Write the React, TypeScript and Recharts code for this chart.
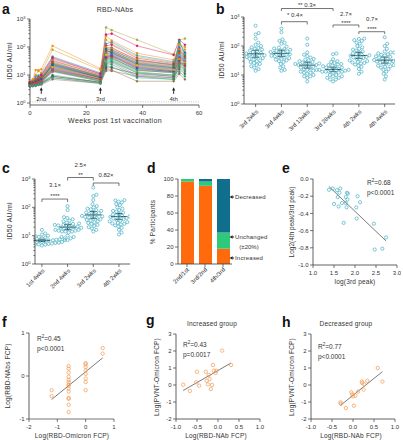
import React from 'react';
import {
  LineChart, Line, XAxis, YAxis, ScatterChart, Scatter, BarChart, Bar, ReferenceLine, ReferenceDot,
} from 'recharts';

const FONT = '"Liberation Sans", Arial, Helvetica, sans-serif';
const INK = '#3a3a3a';
const TXT = '#333';
const TEAL = '#45afc4';
const PEACH = '#f29a52';
const ORANGE = '#ff6a0d';
const GREEN = '#2fc97c';
const PETROL = '#0f6f8c';

// ---------- Panel a: RBD-NAbs ID50 (AU/ml) per participant over time ----------
const weeks = [0, 1, 2, 3, 4, 8, 25, 27, 29, 38, 51, 53, 55];
const wk0 = [5.0, 4.6, 5.5, 4.2, 6.0, 4.8, 5.2, 4.4, 5.8, 4.5, 5.1, 4.0, 4.9, 5.3, 4.3, 4.7, 6.0, 4.1, 5.0, 4.5, 5.4, 3.9, 4.8, 5.2, 4.4, 4.6, 5.5, 4.2, 5.0, 4.7, 4.1, 4.9, 4.3, 4.5, 3.8, 4.0];
const wk1 = [5.5, 5.0, 6.5, 4.5, 7.0, 5.2, 5.8, 4.6, 6.5, 4.8, 5.5, 4.2, 5.3, 6.0, 4.4, 5.0, 6.0, 4.3, 5.4, 4.7, 5.6, 4.1, 5.1, 5.5, 4.6, 4.9, 5.2, 4.4, 5.3, 5.0, 4.2, 5.1, 4.5, 4.7, 4.0, 4.1];
const wk2 = [6.2, 5.4, 9.0, 4.8, 15, 5.8, 7.0, 4.9, 10, 5.2, 6.3, 4.4, 6.0, 7.5, 4.6, 5.5, 6.8, 4.5, 6.0, 5.0, 6.5, 4.2, 5.6, 6.2, 4.8, 5.3, 5.7, 4.6, 5.8, 5.4, 4.4, 5.6, 4.7, 5.0, 4.1, 4.3];
const wk3 = [7.0, 6.0, 9.5, 5.2, 15, 6.5, 8.0, 5.3, 14, 5.6, 7.0, 4.7, 6.8, 8.5, 5.0, 6.0, 7.5, 4.9, 6.6, 5.5, 7.2, 4.5, 6.2, 6.8, 5.2, 5.8, 6.4, 5.0, 6.4, 6.0, 4.8, 6.2, 5.1, 5.5, 4.4, 4.6];
const wk4 = [7.5, 6.5, 11, 5.6, 16, 7.0, 9.0, 5.8, 12, 6.2, 7.8, 5.0, 7.4, 9.5, 5.4, 6.8, 8.5, 5.2, 7.2, 6.0, 8.0, 4.8, 6.8, 7.5, 5.5, 6.4, 10, 5.3, 7.0, 6.6, 5.1, 6.9, 5.6, 6.0, 4.5, 4.9];
const wk8 = [24, 18, 45, 16, 110, 21, 32, 14, 80, 16, 26, 9, 23, 38, 14, 20, 34, 13, 25, 19, 29, 8, 19, 27, 15, 17, 42, 10, 22, 19, 9, 24, 14, 15, 7, 8];
const wk25 = [9, 7, 12, 6, 17, 8, 10, 6, 15, 7, 9.5, 5.5, 8.5, 11, 6.5, 8, 10, 6, 9, 7.5, 9, 5, 7.5, 8.5, 6, 7, 11, 5.5, 8, 7.5, 5.5, 8, 6.5, 7, 5, 5.2];
const wk27 = [500, 58, 130, 36, 250, 55, 90, 30, 180, 42, 75, 20, 62, 110, 28, 48, 100, 24, 66, 44, 85, 16, 50, 70, 32, 46, 280, 22, 80, 52, 18, 40, 26, 38, 14, 34];
const wk29 = [400, 65, 150, 40, 170, 60, 95, 34, 130, 48, 82, 20, 70, 120, 32, 55, 88, 28, 74, 50, 78, 15, 57, 68, 36, 52, 300, 24, 62, 44, 18, 46, 30, 42, 14, 38];
const wk38 = [180, 24, 50, 16, 60, 23, 34, 13, 45, 19, 30, 8, 26, 40, 12, 21, 36, 10, 27, 18, 32, 6, 22, 28, 14, 20, 110, 9, 25, 22, 11, 17, 12, 15, 9, 15];
const wk51 = [55, 17, 30, 13, 35, 16, 24, 10, 28, 14, 21, 7, 18, 26, 9, 15, 22, 8, 19, 13, 23, 6, 16, 20, 13, 14, 52, 7, 18, 15, 9, 13, 10, 12, 8, 12];
const wk53 = [175, 46, 100, 34, 130, 48, 75, 28, 120, 40, 65, 13, 52, 90, 25, 44, 80, 21, 56, 38, 70, 11, 50, 60, 30, 42, 180, 19, 150, 36, 16, 32, 23, 27, 26, 160];
const wk55 = [200, 33, 65, 24, 80, 36, 50, 19, 100, 29, 44, 9, 38, 60, 18, 31, 52, 15, 40, 27, 47, 7, 34, 42, 20, 30, 120, 13, 60, 28, 11, 22, 16, 21, 25, 56];
const timeSeries = [wk0, wk1, wk2, wk3, wk4, wk8, wk25, wk27, wk29, wk38, wk51, wk53, wk55];
const doseWeeks = [4, 25, 51];
const doseLabels = ['2nd', '3rd', '4th'];
const lineColors = ['#a9a83c', '#e0457b', '#1f8fd1', '#2bb3a0', '#f08a24', '#8b3fa8', '#c0392b', '#27ae60', '#d4a017', '#4d6fd1', '#e85d9f', '#16a085', '#7f8c8d', '#b03a6a', '#3aa0d8', '#6ab04c', '#e67e22', '#9b59b6', '#1abc9c', '#cc3333', '#2c7a7b', '#8e6e3c', '#5dade2', '#d35400', '#a3c940', '#884ea0', '#d81b60', '#229954', '#00838f', '#f4b400', '#6d4c41', '#3949ab', '#43a047', '#e53935', '#8d6e63', '#26a69a'];

// ---------- Panel b ----------
const bCategories = ['3rd 2wks', '3rd 4wks', '3rd 13wks', '3rd 28wks', '4th 2wks', '4th 4wks'];
const bGroups = [wk27, wk29, wk38, wk51, wk53, wk55];

// ---------- Panel c ----------
const cCategories = ['1st 4wks', '2nd 4wks', '3rd 2wks', '4th 2wks'];
const cGroups = [wk4, wk8, wk27, wk53];

// ---------- Panel d ----------
const dCategories = ['2nd/1st', '3rd/2nd', '4th/3rd'];
const dIncreased = [97, 92, 18];
const dUnchanged = [3, 5, 19];
const dDecreased = [0, 3, 63];

// ---------- Panel e ----------
const eX = [1.38, 1.47, 1.57, 1.65, 1.63, 1.59, 1.50, 1.61, 1.69, 1.81, 1.83, 1.78, 1.82, 1.78, 1.80, 2.06, 2.12, 2.03, 2.04, 1.73, 2.45, 2.74, 2.47, 2.65];
const eY = [-0.125, -0.11, -0.13, -0.11, -0.16, -0.21, -0.29, -0.32, -0.28, -0.16, -0.17, -0.21, -0.24, -0.28, -0.33, -0.20, -0.27, -0.33, -0.46, -0.51, -0.52, -0.68, -0.82, -0.81];

// ---------- Panel f ----------
const fX = [-1.2, -1.2, -0.6, -0.6, -0.6, -0.6, -0.6, -0.6, -0.6, -0.6, -0.6, -0.6, -0.6, -0.6, -0.6, -0.6, 0, 0, 0, 0, 0, 0, 0, 0, 0.6, 0.6];
const fY = [-0.33, -0.47, 0.23, 0.17, 0.08, -0.02, -0.09, -0.14, -0.2, -0.22, -0.29, -0.36, -0.51, -0.53, -0.67, -0.84, 0.3, 0.27, 0.21, 0.13, 0.05, -0.06, -0.14, -0.33, 0.65, 0.52];

// ---------- Panel g ----------
const gX = [-0.83, -0.67, -0.52, -0.50, -0.45, -0.29, -0.27, -0.24, -0.20, -0.22, -0.17, -0.14, -0.12, -0.10, -0.06, -0.04, 0.10, 0.31];
const gY = [0.02, -0.35, 0.16, 0.78, -0.04, 0.78, 0.25, 0.04, 0.35, 0.59, -0.24, 0.0, 1.18, 0.84, 0.71, 0.84, 2.02, 1.18];

// ---------- Panel h ----------
const hX = [-0.30, -0.29, -0.17, -0.04, -0.02, 0, 0.02, 0.06, 0.12, 0.21, 0.22, 0.25, 0.27, 0.34, 0.59, 0.70];
const hY = [-1.02, -1.10, -1.35, -0.43, -0.55, -0.67, -1.22, -0.63, -0.39, 0.20, 0.12, -0.27, 0.04, 0.25, 1.00, 0.20];

// ---------- tick values ----------
const logMajor = [1, 10, 100, 1000];
const logTicks: number[] = [];
[1, 10, 100].forEach((d) => { for (let m = 1; m <= 9; m++) logTicks.push(m * d); });
logTicks.push(1000);
const isLogMinor = (v: number) => !logMajor.some((m) => Math.abs(m - v) < 1e-9);

// ---------- helpers ----------
function swarm(values: number[], center: number, pxPerUnit: number, pxPerDec: number, D: number) {
  const py = values.map((v) => Math.log10(v) * pxPerDec);
  const order = values.map((_, i) => i).sort((a, b) => py[a] - py[b]);
  const placed: { x: number; py: number }[] = [];
  const out: { x: number; y: number }[] = new Array(values.length);
  for (const i of order) {
    const near = placed.filter((q) => Math.abs(q.py - py[i]) < D);
    const cands = [0];
    near.forEach((q) => {
      const dx = Math.sqrt(D * D - (q.py - py[i]) ** 2);
      cands.push(q.x + dx + 0.01, q.x - dx - 0.01);
    });
    cands.sort((a, b) => Math.abs(a) - Math.abs(b));
    let x = 0;
    for (const c of cands) {
      if (near.every((q) => (q.x - c) ** 2 + (q.py - py[i]) ** 2 >= D * D - 0.05)) { x = c; break; }
    }
    placed.push({ x, py: py[i] });
    out[i] = { x: center + x / pxPerUnit, y: values[i] };
  }
  return out;
}

function gstats(values: number[]) {
  const l = values.map(Math.log10);
  const n = l.length;
  const m = l.reduce((s, v) => s + v, 0) / n;
  const sd = Math.sqrt(l.reduce((s, v) => s + (v - m) ** 2, 0) / (n - 1));
  const t = 2.03;
  const se = sd / Math.sqrt(n);
  return { gm: 10 ** m, lo: 10 ** (m - t * se), hi: 10 ** (m + t * se) };
}

function linreg(xs: number[], ys: number[]) {
  const n = xs.length;
  const mx = xs.reduce((s, v) => s + v, 0) / n;
  const my = ys.reduce((s, v) => s + v, 0) / n;
  let sxy = 0, sxx = 0;
  xs.forEach((x, i) => { sxy += (x - mx) * (ys[i] - my); sxx += (x - mx) ** 2; });
  const b = sxy / sxx;
  const a = my - b * mx;
  const x0 = Math.min(...xs), x1 = Math.max(...xs);
  return [{ x: x0, y: a + b * x0 }, { x: x1, y: a + b * x1 }];
}

type Frame = { x1: number; y1: number; x2: number; y2: number; L: number; T: number; R: number; B: number };
function frame(r: Frame) {
  return {
    style: { position: 'absolute', left: r.x1 - r.L, top: r.y1 - r.T } as React.CSSProperties,
    width: r.x2 - r.x1 + r.L + r.R,
    height: r.y2 - r.y1 + r.T + r.B,
    margin: { top: r.T, right: r.R, left: 0, bottom: 0 },
  };
}

const yTick = (fmt: (v: number) => React.ReactNode, isMinor?: (v: number) => boolean) => (p: any) => {
  const v = p.payload.value;
  const minor = isMinor ? isMinor(v) : false;
  return (
    <g>
      <line x1={p.x} x2={p.x - (minor ? 1.6 : 3)} y1={p.y} y2={p.y} stroke={INK} strokeWidth={0.7} />
      {!minor && (
        <text x={p.x - 4.5} y={p.y + 2.1} textAnchor="end" fontSize={6} fill={TXT} fontFamily={FONT}>{fmt(v)}</text>
      )}
    </g>
  );
};

const xTick = (fmt: (v: number) => React.ReactNode) => (p: any) => (
  <g>
    <line x1={p.x} x2={p.x} y1={p.y} y2={p.y + 3} stroke={INK} strokeWidth={0.7} />
    <text x={p.x} y={p.y + 9.5} textAnchor="middle" fontSize={6} fill={TXT} fontFamily={FONT}>{fmt(p.payload.value)}</text>
  </g>
);

const rotTick = (name: (v: any) => string, dx: number, dy: number) => (p: any) => {
  const ax = p.x + dx, ay = p.y + dy;
  return (
    <g>
      <line x1={p.x} x2={p.x} y1={p.y} y2={p.y + 3} stroke={INK} strokeWidth={0.7} />
      <text x={ax} y={ay} transform={`rotate(-45 ${ax} ${ay})`} textAnchor="end" fontSize={6} fill={TXT} fontFamily={FONT}>{name(p.payload.value)}</text>
    </g>
  );
};

const logFmt = (v: number) => (
  <>
    10<tspan dy={-2.4} fontSize={4}>{Math.round(Math.log10(v))}</tspan>
  </>
);

const hollow = (color: string, r: number) => (p: any) => (
  <circle cx={p.cx} cy={p.cy} r={r} fill="none" stroke={color} strokeWidth={0.7} />
);

const axisProps = {
  axisLine: { stroke: INK, strokeWidth: 0.8 },
  tickLine: false,
  tickSize: 0,
  tickMargin: 0,
  interval: 0 as const,
};

const seg = (key: string, a: { x: any; y: number }, b: { x: any; y: number }, w = 0.7, color = INK) => (
  <ReferenceLine key={key} segment={[a, b]} stroke={color} strokeWidth={w} ifOverflow="visible" />
);

const bracket = (key: string, x1: number, x2: number, y: number, yEnd: number) => [
  seg(key + 'l', { x: x1, y: yEnd }, { x: x1, y }),
  seg(key + 'm', { x: x1, y }, { x: x2, y }),
  seg(key + 'r', { x: x2, y }, { x: x2, y: yEnd }),
];

function meanBars(groups: number[][], half: number, cap: number) {
  return groups.flatMap((g, i) => {
    const s = gstats(g);
    const c = i + 1;
    return [
      seg(`m${i}`, { x: c - half, y: s.gm }, { x: c + half, y: s.gm }, 0.9, '#2a2a2a'),
      seg(`v${i}`, { x: c, y: s.lo }, { x: c, y: s.hi }, 0.8, '#2a2a2a'),
      seg(`lo${i}`, { x: c - cap, y: s.lo }, { x: c + cap, y: s.lo }, 0.8, '#2a2a2a'),
      seg(`hi${i}`, { x: c - cap, y: s.hi }, { x: c + cap, y: s.hi }, 0.8, '#2a2a2a'),
    ];
  });
}

const DoseArrow = (label: string) => (p: any) => (
  <g>
    <line x1={p.cx} x2={p.cx} y1={p.cy + 3} y2={p.cy - 1} stroke="#222" strokeWidth={0.9} />
    <polygon points={`${p.cx - 1.6},${p.cy - 0.5} ${p.cx + 1.6},${p.cy - 0.5} ${p.cx},${p.cy - 3.6}`} fill="#222" />
    <text x={p.cx} y={p.cy + 10.5} textAnchor="middle" fontSize={6} fill={TXT} fontFamily={FONT}>{label}</text>
  </g>
);

const Txt = ({ x, y, s = 7, a = 'middle', r, w, ls, children }: any) => (
  <text x={x} y={y} fontSize={s} textAnchor={a} fontWeight={w} fill={w ? '#111' : TXT} fontFamily={FONT}
    letterSpacing={ls} transform={r ? `rotate(${r} ${x} ${y})` : undefined}>{children}</text>
);

const R2 = ({ x, y, v }: any) => (
  <Txt x={x} y={y} s={6.5} a="start">R<tspan dy={-2.6} fontSize={4.5}>2</tspan><tspan dy={2.6}>={v}</tspan></Txt>
);

const LeftArrow = ({ x, y }: any) => (
  <g>
    <polygon points={`${x},${y} ${x + 3.2},${y - 1.8} ${x + 3.2},${y + 1.8}`} fill="#222" />
    <line x1={x + 3} x2={x + 4.5} y1={y} y2={y} stroke="#222" strokeWidth={1} />
  </g>
);

const fix1 = (v: number) => (Math.abs(v) < 1e-9 ? '0.0' : v.toFixed(1));
const int = (v: number) => String(Math.round(v));

const A: Frame = { x1: 30, y1: 19, x2: 199, y2: 105, L: 26, T: 8, R: 6, B: 14 };
const B: Frame = { x1: 244, y1: 17, x2: 395, y2: 104, L: 22, T: 14, R: 6, B: 36 };
const C: Frame = { x1: 35, y1: 179, x2: 130, y2: 264, L: 22, T: 10, R: 4, B: 34 };
const D: Frame = { x1: 178, y1: 179, x2: 232, y2: 264, L: 20, T: 4, R: 2, B: 30 };
const E: Frame = { x1: 313, y1: 179, x2: 397, y2: 265, L: 20, T: 4, R: 4, B: 14 };
const F: Frame = { x1: 29, y1: 333, x2: 114, y2: 419, L: 16, T: 4, R: 6, B: 14 };
const G: Frame = { x1: 176, y1: 334, x2: 260, y2: 419, L: 14, T: 4, R: 6, B: 14 };
const H: Frame = { x1: 311, y1: 334, x2: 395, y2: 419, L: 14, T: 4, R: 6, B: 14 };

export default function App() {
  const aRows = weeks.map((w, ti) => {
    const row: Record<string, number> = { week: w };
    timeSeries[ti].forEach((v, pi) => { row['p' + pi] = v; });
    return row;
  });
  const bSwarm = bGroups.map((g, i) => swarm(g, i + 1, 25.8, 29, 3.4));
  const cSwarm = cGroups.map((g, i) => swarm(g, i + 1, 25.7, 28.3, 3.4));
  const dRows = dCategories.map((name, i) => ({ name, inc: dIncreased[i], unc: dUnchanged[i], dec: dDecreased[i] }));
  const ePts = eX.map((x, i) => ({ x, y: eY[i] }));
  const fPts = fX.map((x, i) => ({ x, y: fY[i] }));
  const gPts = gX.map((x, i) => ({ x, y: gY[i] }));
  const hPts = hX.map((x, i) => ({ x, y: hY[i] }));
  const eFit = linreg(eX, eY);
  const fFit = linreg(fX, fY);
  const gFit = linreg(gX, gY);
  const hFit = linreg(hX, hY);

  const fa = frame(A), fb = frame(B), fc = frame(C), fd = frame(D), fe = frame(E), ff = frame(F), fg = frame(G), fh = frame(H);

  return (
    <div style={{ position: 'absolute', left: 0, top: 0, width: 403, height: 440, background: '#fff', overflow: 'hidden', fontFamily: FONT }}>
      {/* a */}
      <div style={fa.style}>
        <LineChart width={fa.width} height={fa.height} data={aRows} margin={fa.margin}>
          <XAxis type="number" dataKey="week" domain={[0, 60]} ticks={[0, 20, 40, 60]} height={A.B} {...axisProps} tick={xTick(int)} />
          <YAxis type="number" scale="log" domain={[0.85, 1000]} allowDataOverflow ticks={logTicks} width={A.L} {...axisProps} tick={yTick(logFmt, isLogMinor)} />
          <ReferenceLine y={1.1} stroke="#9a9a9a" strokeWidth={0.6} strokeDasharray="1 1.3" />
          {lineColors.map((c, i) => (
            <Line key={i} type="linear" dataKey={'p' + i} stroke={c} strokeWidth={0.55} strokeOpacity={0.85}
              dot={{ r: 1.1, fill: c, stroke: c, strokeWidth: 0.3 }} activeDot={false} isAnimationActive={false} />
          ))}
          {doseWeeks.map((w, i) => (
            <ReferenceDot key={'d' + i} x={w} y={2.7} r={0} ifOverflow="visible" shape={DoseArrow(doseLabels[i])} />
          ))}
        </LineChart>
      </div>

      {/* b */}
      <div style={fb.style}>
        <ScatterChart width={fb.width} height={fb.height} margin={fb.margin}>
          <XAxis type="number" dataKey="x" domain={[0.55, 6.4]} ticks={[1, 2, 3, 4, 5, 6]} allowDataOverflow height={B.B} {...axisProps}
            tick={rotTick((v) => bCategories[Math.round(v) - 1], 3, 8)} />
          <YAxis type="number" dataKey="y" scale="log" domain={[1, 1000]} allowDataOverflow ticks={logTicks} width={B.L} {...axisProps} tick={yTick(logFmt, isLogMinor)} />
          {bSwarm.map((pts, i) => (
            <Scatter key={i} data={pts} shape={hollow(TEAL, 1.55)} isAnimationActive={false} />
          ))}
          {meanBars(bGroups, 0.32, 0.14)}
          {bracket('b1', 2, 4, 1960, 1610)}
          {bracket('b2', 2, 3, 689, 551)}
          {bracket('b3', 4, 5, 530, 434)}
          {bracket('b4', 5, 6, 311, 259)}
        </ScatterChart>
      </div>

      {/* c */}
      <div style={fc.style}>
        <ScatterChart width={fc.width} height={fc.height} margin={fc.margin}>
          <XAxis type="number" dataKey="x" domain={[0.73, 4.43]} ticks={[1, 2, 3, 4]} allowDataOverflow height={C.B} {...axisProps}
            tick={rotTick((v) => cCategories[Math.round(v) - 1], 3, 7)} />
          <YAxis type="number" dataKey="y" scale="log" domain={[1, 1000]} allowDataOverflow ticks={logTicks} width={C.L} {...axisProps} tick={yTick(logFmt, isLogMinor)} />
          {cSwarm.map((pts, i) => (
            <Scatter key={i} data={pts} shape={hollow(TEAL, 1.55)} isAnimationActive={false} />
          ))}
          {meanBars(cGroups, 0.32, 0.14)}
          {bracket('c1', 1, 2, 196, 154)}
          {bracket('c2', 2, 3, 1130, 885)}
          {bracket('c3', 3, 4, 723, 566)}
        </ScatterChart>
      </div>

      {/* d */}
      <div style={fd.style}>
        <BarChart width={fd.width} height={fd.height} data={dRows} margin={fd.margin} barSize={13}>
          <XAxis type="category" dataKey="name" height={D.B} {...axisProps} tick={rotTick((v) => String(v), 2.5, 6)} />
          <YAxis type="number" domain={[0, 100]} ticks={[0, 20, 40, 60, 80, 100]} width={D.L} {...axisProps} tick={yTick(int)} />
          <Bar dataKey="inc" stackId="s" fill={ORANGE} isAnimationActive={false} />
          <Bar dataKey="unc" stackId="s" fill={GREEN} isAnimationActive={false} />
          <Bar dataKey="dec" stackId="s" fill={PETROL} isAnimationActive={false} />
        </BarChart>
      </div>

      {/* e */}
      <div style={fe.style}>
        <ScatterChart width={fe.width} height={fe.height} margin={fe.margin}>
          <XAxis type="number" dataKey="x" domain={[1, 3]} ticks={[1, 1.5, 2, 2.5, 3]} allowDataOverflow height={E.B} {...axisProps} tick={xTick(fix1)} />
          <YAxis type="number" dataKey="y" domain={[-1, 0]} ticks={[-1, -0.8, -0.6, -0.4, -0.2, 0]} allowDataOverflow width={E.L} {...axisProps} tick={yTick(fix1)} />
          <Scatter data={ePts} shape={hollow(TEAL, 1.6)} isAnimationActive={false} />
          {seg('efit', eFit[0], eFit[1], 0.6, '#222')}
        </ScatterChart>
      </div>

      {/* f */}
      <div style={ff.style}>
        <ScatterChart width={ff.width} height={ff.height} margin={ff.margin}>
          <XAxis type="number" dataKey="x" domain={[-2, 1]} ticks={[-2, -1, 0, 1]} allowDataOverflow height={F.B} axisLine={{ stroke: '#777', strokeWidth: 1.2 }} tickLine={false} tickSize={0} tickMargin={0} interval={0} tick={xTick(int)} />
          <YAxis type="number" dataKey="y" domain={[-1, 1]} ticks={[-1, 0, 1]} allowDataOverflow width={F.L} axisLine={{ stroke: '#777', strokeWidth: 1.2 }} tickLine={false} tickSize={0} tickMargin={0} interval={0} tick={yTick(int)} />
          <Scatter data={fPts} shape={hollow(PEACH, 1.7)} isAnimationActive={false} />
          {seg('ffit', fFit[0], fFit[1], 0.6, '#222')}
        </ScatterChart>
      </div>

      {/* g */}
      <div style={fg.style}>
        <ScatterChart width={fg.width} height={fg.height} margin={fg.margin}>
          <XAxis type="number" dataKey="x" domain={[-1, 1]} ticks={[-1, -0.5, 0, 0.5, 1]} allowDataOverflow height={G.B} {...axisProps} tick={xTick(fix1)} />
          <YAxis type="number" dataKey="y" domain={[-2, 3]} ticks={[-2, -1, 0, 1, 2, 3]} allowDataOverflow width={G.L} {...axisProps} tick={yTick(int)} />
          <Scatter data={gPts} shape={hollow(PEACH, 1.7)} isAnimationActive={false} />
          {seg('gfit', gFit[0], gFit[1], 0.6, '#222')}
        </ScatterChart>
      </div>

      {/* h */}
      <div style={fh.style}>
        <ScatterChart width={fh.width} height={fh.height} margin={fh.margin}>
          <XAxis type="number" dataKey="x" domain={[-1, 1]} ticks={[-1, -0.5, 0, 0.5, 1]} allowDataOverflow height={H.B} {...axisProps} tick={xTick(fix1)} />
          <YAxis type="number" dataKey="y" domain={[-2, 3]} ticks={[-2, -1, 0, 1, 2, 3]} allowDataOverflow width={H.L} {...axisProps} tick={yTick(int)} />
          <Scatter data={hPts} shape={hollow(PEACH, 1.7)} isAnimationActive={false} />
          {seg('hfit', hFit[0], hFit[1], 0.6, '#222')}
        </ScatterChart>
      </div>

      {/* text overlay */}
      <svg width={403} height={440} style={{ position: 'absolute', left: 0, top: 0, pointerEvents: 'none' }}>
        {/* panel letters */}
        <Txt x={2} y={14} s={14} a="start" w="bold">a</Txt>
        <Txt x={216} y={14} s={14} a="start" w="bold">b</Txt>
        <Txt x={2} y={173} s={14} a="start" w="bold">c</Txt>
        <Txt x={147} y={173} s={14} a="start" w="bold">d</Txt>
        <Txt x={282} y={173} s={14} a="start" w="bold">e</Txt>
        <Txt x={2} y={327} s={14} a="start" w="bold">f</Txt>
        <Txt x={146} y={325} s={14} a="start" w="bold">g</Txt>
        <Txt x={282} y={327} s={14} a="start" w="bold">h</Txt>

        {/* a */}
        <Txt x={115} y={12} s={7} ls={0.3}>RBD-NAbs</Txt>
        <Txt x={12.4} y={61} s={7} r={-90} ls={0.2}>ID50 AU/ml</Txt>
        <Txt x={115} y={123} s={7} ls={0.35}>Weeks post 1st vaccination</Txt>

        {/* b */}
        <Txt x={224.4} y={60} s={7} r={-90} ls={0.2}>ID50 AU/ml</Txt>
        <Txt x={307} y={7} s={6}>**  0.3×</Txt>
        <Txt x={295} y={17.2} s={6}>*  0.4×</Txt>
        <Txt x={346} y={16.2} s={6}>2.7×</Txt>
        <Txt x={346} y={24.8} s={6}>****</Txt>
        <Txt x={372} y={20.5} s={6}>0.7×</Txt>
        <Txt x={372} y={30.6} s={6}>****</Txt>

        {/* c */}
        <Txt x={12.4} y={221} s={7} r={-90} ls={0.2}>ID50 AU/ml</Txt>
        <Txt x={55} y={187} s={6}>3.1×</Txt>
        <Txt x={55} y={197.5} s={6}>****</Txt>
        <Txt x={80.5} y={166.5} s={6}>2.5×</Txt>
        <Txt x={80.5} y={177} s={6}>**</Txt>
        <Txt x={106} y={177} s={6}>0.82×</Txt>

        {/* d */}
        <Txt x={155.4} y={222} s={6.5} r={-90} ls={0.2}>% Participants</Txt>
        <LeftArrow x={229.5} y={197} />
        <Txt x={235} y={199.2} s={6} a="start" ls={0.2}>Decreased</Txt>
        <LeftArrow x={229.5} y={237} />
        <Txt x={235} y={239.2} s={6} a="start" ls={0.2}>Unchanged</Txt>
        <Txt x={249} y={248.5} s={6}>(±20%)</Txt>
        <LeftArrow x={229.5} y={258} />
        <Txt x={235} y={260.2} s={6} a="start" ls={0.2}>Increased</Txt>

        {/* e */}
        <R2 x={367} y={185} v="0.68" />
        <Txt x={367} y={194.5} s={6.5} a="start">p&lt;0.0001</Txt>
        <Txt x={294.2} y={222} s={6.5} r={-90}>Log2(4th peak/3rd peak)</Txt>
        <Txt x={355} y={284} s={6.5} ls={0.2}>log(3rd peak)</Txt>

        {/* f */}
        <R2 x={37} y={341} v="0.45" />
        <Txt x={37} y={350.5} s={6.5} a="start">p&lt;0.0001</Txt>
        <Txt x={10.4} y={376} s={6.5} r={-90} ls={0.2}>Log(RBD-NAbs FCP)</Txt>
        <Txt x={72} y={437.5} s={6.5} ls={0.2}>Log(RBD-Omicron FCP)</Txt>

        {/* g */}
        <Txt x={212} y={326} s={6.5} ls={0.2}>Increased group</Txt>
        <R2 x={183} y={347} v="0.43" />
        <Txt x={183} y={357} s={6.5} a="start">p=0.0017</Txt>
        <Txt x={159.4} y={377} s={6.5} r={-90} ls={0.2}>Log(PVNT-Omicron FCP)</Txt>
        <Txt x={216} y={437.5} s={6.5} ls={0.2}>Log(RBD-NAb FCP)</Txt>

        {/* h */}
        <Txt x={346} y={326} s={6.5} ls={0.2}>Decreased group</Txt>
        <R2 x={318} y={348.5} v="0.77" />
        <Txt x={318} y={358.5} s={6.5} a="start">p&lt;0.0001</Txt>
        <Txt x={294.4} y={377} s={6.5} r={-90} ls={0.2}>Log(PVNT-Omicron FCP)</Txt>
        <Txt x={351} y={437.5} s={6.5} ls={0.2}>Log(RBD-NAb FCP)</Txt>
      </svg>
    </div>
  );
}
